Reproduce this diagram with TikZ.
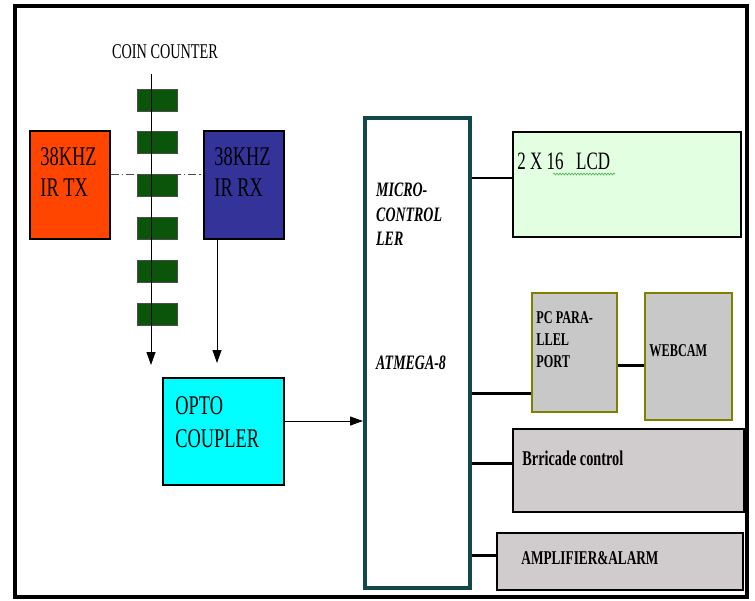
\documentclass[tikz,border=0pt]{standalone}
\usepackage{fontspec}
\setmainfont[FakeStretch=0.68]{Liberation Serif}
\usetikzlibrary{arrows.meta,positioning,decorations.pathmorphing}
\definecolor{txred}{RGB}{255,69,0}
\definecolor{rxblue}{RGB}{51,51,153}
\definecolor{coingreen}{RGB}{10,85,10}
\definecolor{mcuteal}{RGB}{18,72,72}
\definecolor{optocyan}{RGB}{0,255,255}
\definecolor{lcdgreen}{RGB}{226,255,226}
\definecolor{portgray}{RGB}{200,200,200}
\definecolor{portedge}{RGB}{128,128,0}
\definecolor{outgray}{RGB}{208,203,205}

\begin{document}
\begin{tikzpicture}[x=1pt, y=-1pt,
  block/.style={draw, line width=1.5pt, inner sep=0pt},
  coin/.style={draw=black!70, fill=coingreen, line width=0.8pt, minimum width=40pt, minimum height=22pt, inner sep=0pt},
  lbl/.style={inner sep=0pt, anchor=north west, align=left},
  arrow/.style={-{Triangle[length=13pt,width=9pt]}, line width=1pt},
  wire/.style={line width=3pt}
]
\useasboundingbox (0,0) rectangle (755,600);
\draw[line width=3.5pt] (15,6) rectangle (747,597);

% coin counter
\node[font=\fontsize{21}{24}\selectfont] (coinlbl) at (165,52) {COIN COUNTER};
\node[block, fill=txred, minimum width=80pt, minimum height=108pt] (tx) at (70,185) {};
\node[block, fill=rxblue, minimum width=80pt, minimum height=108pt] (rx) at (244,185) {};
\node[lbl, font=\fontsize{27}{31}\selectfont] (txtext) at ([shift={(11,17)}]tx.north west) {38KHZ\\IR TX};
\node[lbl, font=\fontsize{27}{31}\selectfont] (rxtext) at ([shift={(11,17)}]rx.north west) {38KHZ\\IR RX};
\draw[line width=0.8pt, black!70, dash pattern=on 8pt off 3pt on 1.5pt off 3pt] (tx.east |- 0,174) -- (rx.west |- 0,174);
\foreach \i in {0,...,5}
  \node[coin] (coin\i) at (157,{100+42.8*\i}) {};
\coordinate (ctop) at (151,74);
\coordinate (cbot) at (151,365);
\draw[arrow] (ctop) -- (cbot);
\coordinate (rxend) at (217,363);
\draw[arrow] (rx.south -| rxend) -- (rxend);

\node[block, fill=optocyan, minimum width=121pt, minimum height=107pt] (opto) at (223.5,431.5) {};
\node[lbl, font=\fontsize{27}{33}\selectfont] (optotext) at ([shift={(13,19)}]opto.north west) {OPTO\\COUPLER};

% microcontroller
\node[draw=mcuteal, line width=4pt, fill=white, minimum width=105pt, minimum height=470pt, inner sep=0pt] (mcu) at (417.5,353) {};
\node[lbl, font=\fontsize{20.5}{24.5}\selectfont\bfseries\itshape] (mcutext) at ([shift={(13,67)}]mcu.north west) {MICRO-\\CONTROL\\LER};
\node[lbl, font=\fontsize{20.5}{24}\selectfont\bfseries\itshape] (atmega) at ([shift={(13,240)}]mcu.north west) {ATMEGA-8};
\draw[arrow] (opto.east |- 0,421) -- (mcu.west |- 0,421);

% outputs
\node[block, fill=lcdgreen, minimum width=228pt, minimum height=105pt] (lcd) at (627,184.5) {};
\node[lbl, font=\fontsize{25}{28}\selectfont] (lcdtext) at ([shift={(5,21)}]lcd.north west) {2 X 16\enspace LCD};
\draw[decorate, decoration={snake, amplitude=1pt, segment length=3pt}, draw=gray!60!green, line width=0.6pt] (553,174) -- (615,174);
\node[block, draw=portedge, fill=portgray, minimum width=85pt, minimum height=119pt] (pc) at (574.5,352.5) {};
\node[lbl, font=\fontsize{18}{22}\selectfont\bfseries] (pctext) at ([shift={(5,19)}]pc.north west) {PC PARA-\\LLEL\\PORT};
\node[block, draw=portedge, fill=portgray, minimum width=87pt, minimum height=127pt] (cam) at (688.5,356.5) {};
\node[lbl, font=\fontsize{18}{22}\selectfont\bfseries] (camtext) at ([shift={(5,52)}]cam.north west) {WEBCAM};
\node[block, fill=outgray, minimum width=231pt, minimum height=83pt] (bar) at (628.5,470.5) {};
\node[lbl, font=\fontsize{21}{24}\selectfont\bfseries] (bartext) at ([shift={(10,22)}]bar.north west) {Brricade control};
\node[block, fill=outgray, minimum width=246pt, minimum height=57pt] (amp) at (620,561.5) {};
\node[lbl, font=\fontsize{19.5}{22}\selectfont\bfseries] (amptext) at ([shift={(25,19)}]amp.north west) {AMPLIFIER\&ALARM};

\draw[line width=1.5pt] (mcu.east |- 0,178) -- (lcd.west |- 0,178);
\draw[wire] (mcu.east |- 0,393) -- (pc.west |- 0,393);
\draw[wire] (pc.east |- 0,365) -- (cam.west |- 0,365);
\draw[wire] (mcu.east |- 0,463) -- (bar.west |- 0,463);
\draw[wire] (mcu.east |- 0,555) -- (amp.west |- 0,555);
\end{tikzpicture}
\end{document}
